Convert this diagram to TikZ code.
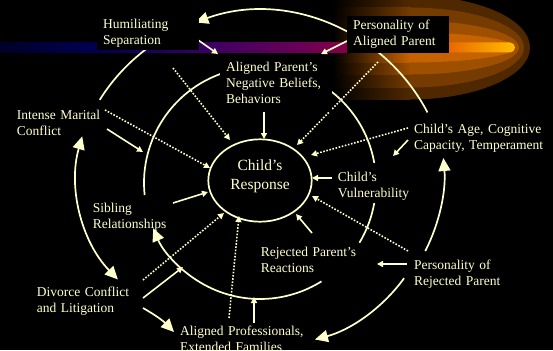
\documentclass[tikz,border=0pt]{standalone}
\usepackage{fontspec}
\setmainfont{Liberation Serif}
\usetikzlibrary{arrows.meta,shapes.geometric,calc}
\definecolor{cream}{RGB}{255,255,204}
\definecolor{glowA}{RGB}{80,40,0}
\definecolor{glowB}{RGB}{118,59,0}
\definecolor{glowC}{RGB}{158,79,0}
\definecolor{glowD}{RGB}{198,99,0}
\definecolor{barA}{RGB}{0,0,40}
\definecolor{barB}{RGB}{0,0,85}
\definecolor{barC}{RGB}{55,0,100}
\definecolor{barD}{RGB}{105,0,85}
\definecolor{barE}{RGB}{135,0,70}
\definecolor{barF}{RGB}{235,105,0}
\definecolor{barG}{RGB}{255,190,0}
\begin{document}
\begin{tikzpicture}[x=1pt,y=1pt,
  lbl/.style={text=cream, font=\fontsize{13.5}{16}\selectfont, align=left, inner sep=0pt, anchor=base west},
  boxlbl/.style={lbl, fill=black, inner xsep=6pt},
  sarr/.style={draw=cream, line width=1.6pt, -{Triangle[length=6pt,width=6pt]}},
  darr/.style={sarr, dash pattern=on 1.6pt off 1.6pt},
  ring/.style={draw=cream, line width=1.7pt},
  bigend/.style={-{Triangle[length=13pt,width=12pt]}},
  bigboth/.style={{Triangle[length=13pt,width=12pt]}-{Triangle[length=13pt,width=12pt]}}
]
\fill[black] (0,0) rectangle (553,-350);
\useasboundingbox (0,0) rectangle (553,-350);

% comet glow
\begin{scope}
\clip (0,0) rectangle (553,-350);
\foreach \ry/\rx/\gc in {52/120/glowA, 40/114/glowB, 27/109/glowC, 15/105/glowD} {
  \shade[left color=black, right color=\gc] (333,-47.5+\ry) rectangle (410.5,-47.5-\ry);
  \fill[\gc] (410,-47.5+\ry) arc[start angle=90, end angle=-90, x radius=\rx, y radius=\ry] -- cycle;
}
\end{scope}
% comet bar
\shade[left color=barA, right color=barB] (0,-42.5) rectangle (100.5,-52.5);
\shade[left color=barB, right color=barC] (100,-42.5) rectangle (200.5,-52.5);
\shade[left color=barC, right color=barD] (200,-42.5) rectangle (300.5,-52.5);
\shade[left color=barD, right color=barE] (300,-42.5) rectangle (350.5,-52.5);
\shade[left color=barE, right color=barF] (350,-42.5) rectangle (450.5,-52.5);
\shade[left color=barF, right color=barG] (450,-42.5) -- (510,-42.5) arc[start angle=90, end angle=-90, radius=5] -- (450,-52.5) -- cycle;

% middle ring
\draw[ring] ($(260,-183)+(105:116)$) arc[start angle=105, end angle=186, radius=116];
\draw[ring] ($(260,-183)+(60:116)$) arc[start angle=60, end angle=10, radius=116];
\draw[ring] ($(260,-183)+(-10:116)$) arc[start angle=-10, end angle=-31, radius=116];
\draw[ring, bigend] ($(260,-183)+(-58:116)$) arc[start angle=-58, end angle=-157, radius=116];
% outer ring
\draw[ring, bigend] ($(260,-200)+(27.6:189)$) arc[start angle=27.6, end angle=110, radius=189];
\draw[ring] ($(260,-200)+(125:189)$) arc[start angle=125, end angle=148, radius=189];
\draw[ring, bigboth] ($(224,-177)+(164:147.5)$) arc[start angle=164, end angle=224, radius=147.5];
\draw[ring, bigend] ($(272,-173)+(-27:172)$) arc[start angle=-27, end angle=5, radius=172];
\draw[ring, bigend] ($(273,-183)+(-36:162)$) arc[start angle=-36, end angle=-75, radius=162];

% connector end points
\coordinate (h1) at (198,-40);   \coordinate (h2) at (218,-54);
\coordinate (p1) at (347,-41);   \coordinate (p2) at (321,-54);
\coordinate (a1) at (264,-111);  \coordinate (a2) at (264,-139);
\coordinate (i1) at (107,-129);  \coordinate (i2) at (143,-152);
\coordinate (c1) at (408,-140);  \coordinate (c2) at (393,-156);
\coordinate (v1) at (332,-178);  \coordinate (v2) at (312,-178);
\coordinate (b1) at (173,-203);  \coordinate (b2) at (208,-192);
\coordinate (r1) at (312,-233);  \coordinate (r2) at (296,-214);
\coordinate (q1) at (407,-264);  \coordinate (q2) at (377,-264);
\coordinate (d1) at (143,-298);  \coordinate (d2) at (183,-267);
\coordinate (e1) at (143,-308);  \coordinate (e2) at (174,-332);
\coordinate (f1) at (254,-323);  \coordinate (f2) at (254,-297);
\coordinate (t1) at (173,-68);   \coordinate (t2) at (230,-140);
\coordinate (u1) at (378,-62);   \coordinate (u2) at (297,-145);
\coordinate (m1) at (105,-110);  \coordinate (m2) at (210,-168);
\coordinate (g1) at (408,-128);  \coordinate (g2) at (311,-155);
\coordinate (k1) at (408,-251);  \coordinate (k2) at (312,-196);
\coordinate (l1) at (143,-280);  \coordinate (l2) at (224,-213);
\coordinate (n1) at (229,-318);  \coordinate (n2) at (239,-216);

% solid connectors
\draw[sarr] (h1) -- (h2);
\draw[sarr] (p1) -- (p2);
\draw[sarr] (a1) -- (a2);
\draw[sarr] (i1) -- (i2);
\draw[sarr] (c1) -- (c2);
\draw[sarr] (v1) -- (v2);
\draw[sarr] (b1) -- (b2);
\draw[sarr] (r1) -- (r2);
\draw[sarr] (q1) -- (q2);
\draw[sarr] (d1) -- (d2);
\draw[ring, bigend] (e1) to[bend left=8] (e2);
\draw[sarr] (f1) -- (f2);
% dotted connectors
\draw[darr] (t1) -- (t2);
\draw[darr] (u1) -- (u2);
\draw[darr] (m1) -- (m2);
\draw[darr] (g1) -- (g2);
\draw[darr] (k1) -- (k2);
\draw[darr] (l1) -- (l2);
\draw[darr] (n1) -- (n2);

% nodes
\node[boxlbl, text width=90pt, inner ysep=3pt] (hum) at (97,-28.3) {Humiliating\\Separation};
\node[boxlbl, text width=90pt, inner ysep=4pt] (pap) at (347,-30) {Personality of\\Aligned Parent};
\node[boxlbl, text width=100pt, inner ysep=8pt] (apn) at (220,-72) {Aligned Parent’s\\Negative Beliefs,\\Behaviors};
\node[lbl, text width=100pt] (imc) at (16.7,-119) {Intense Marital\\Conflict};
\node[lbl, text width=138pt] (cag) at (414,-133.3) {Child’s Age, Cognitive\\Capacity, Temperament};
\node[lbl, text width=80pt] (cvu) at (337.7,-181) {Child’s\\Vulnerability};
\node[lbl, text width=90pt] (sib) at (92.7,-212.7) {Sibling\\Relationships};
\node[lbl, text width=110pt] (rpr) at (260.7,-256.7) {Rejected Parent’s\\Reactions};
\node[lbl, text width=110pt] (prp) at (414,-269) {Personality of\\Rejected Parent};
\node[lbl, text width=110pt] (dcl) at (36.7,-296) {Divorce Conflict\\and Litigation};
\node[lbl, text width=140pt] (apf) at (180,-335) {Aligned Professionals,\\Extended Families};
\node[ellipse, draw=cream, line width=1.7pt, minimum width=103.4pt, minimum height=82.4pt,
      inner sep=0pt, text=cream, font=\fontsize{15.5}{18.3}\selectfont, align=center,
      text width=70pt, text height=10.6pt, text depth=30pt] (resp) at (260,-180.5) {Child’s\\Response};
\end{tikzpicture}
\end{document}
